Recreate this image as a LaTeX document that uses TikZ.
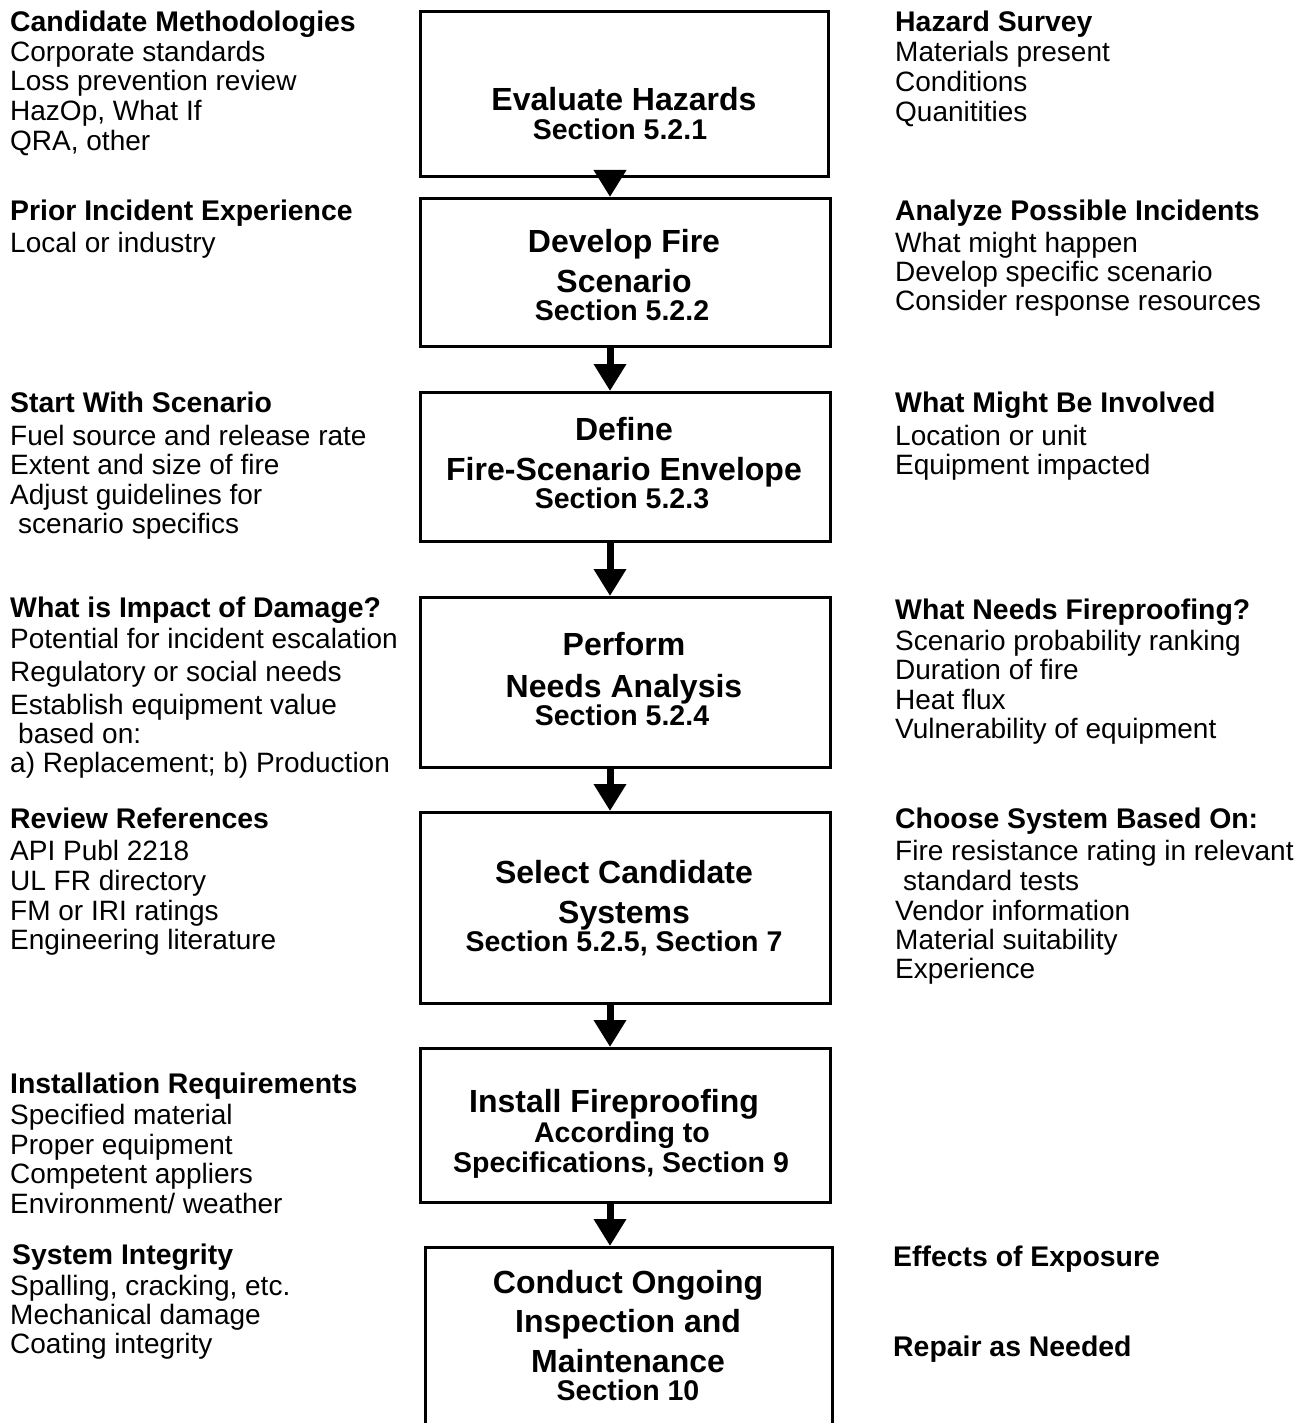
\documentclass[tikz,border=0pt]{standalone}
\usepackage{fontspec}
\setmainfont{Liberation Sans}
\usetikzlibrary{arrows.meta}
\tikzset{
  stepbox/.style={draw, line width=2.8pt, inner sep=0pt, anchor=north west},
  side/.style={anchor=base west, inner sep=0pt, font=\fontsize{28}{30}\selectfont},
  sidehead/.style={side, font=\fontsize{28.4}{30}\selectfont\bfseries},
  title/.style={anchor=base, inner sep=0pt, font=\fontsize{32}{36}\selectfont\bfseries},
  sect/.style={anchor=base, inner sep=0pt, font=\fontsize{28.5}{30}\selectfont\bfseries},
  flow/.style={line width=7pt, -{Triangle[width=31pt,length=27pt]}}
}
\begin{document}
\begin{tikzpicture}[x=1pt,y=-1pt]
\useasboundingbox (0,0) rectangle (1312,1423);
% boxes
\node[stepbox, minimum width=408pt, minimum height=165pt] (b1) at (419,10) {};
\node[stepbox, minimum width=410pt, minimum height=148pt] (b2) at (419,197) {};
\node[stepbox, minimum width=410pt, minimum height=149pt] (b3) at (419,391) {};
\node[stepbox, minimum width=410pt, minimum height=170pt] (b4) at (419,596) {};
\node[stepbox, minimum width=410pt, minimum height=191pt] (b5) at (419,811) {};
\node[stepbox, minimum width=410pt, minimum height=154pt] (b6) at (419,1047) {};
\node[stepbox, minimum width=407pt, minimum height=200pt] (b7) at (424,1246) {};
\coordinate (ax) at (610,0);
\draw[flow] (b1.south -| ax) -- (b2.north -| ax);
\draw[flow] (b2.south -| ax) -- (b3.north -| ax);
\draw[flow] (b3.south -| ax) -- (b4.north -| ax);
\draw[flow] (b4.south -| ax) -- (b5.north -| ax);
\draw[flow] (b5.south -| ax) -- (b6.north -| ax);
\draw[flow] (b6.south -| ax) -- (b7.north -| ax);
% box texts
\node[title] (t1a) at (624,111) {Evaluate Hazards};
\node[sect] (t1b) at (620,140) {Section 5.2.1};
\node[title] (t2a) at (624,252) {Develop Fire};
\node[title] (t2b) at (624,292) {Scenario};
\node[sect] (t2c) at (622,320) {Section 5.2.2};
\node[title] (t3a) at (624,440) {Define};
\node[title] (t3b) at (624,480) {Fire-Scenario Envelope};
\node[sect] (t3c) at (622,508) {Section 5.2.3};
\node[title] (t4a) at (624,655) {Perform};
\node[title] (t4b) at (624,697) {Needs Analysis};
\node[sect] (t4c) at (622,725) {Section 5.2.4};
\node[title] (t5a) at (624,883) {Select Candidate};
\node[title] (t5b) at (624,923) {Systems};
\node[sect] (t5c) at (624,951) {Section 5.2.5, Section 7};
\node[title] (t6a) at (614,1112) {Install Fireproofing};
\node[sect] (t6b) at (622,1142) {According to};
\node[sect] (t6c) at (621,1172) {Specifications, Section 9};
\node[title] (t7a) at (628,1293) {Conduct Ongoing};
\node[title] (t7b) at (628,1332) {Inspection and};
\node[title] (t7c) at (628,1372) {Maintenance};
\node[sect] (t7d) at (628,1400) {Section 10};
% left column
\node[sidehead] (l1) at (10,32) {Candidate Methodologies};
\node[side] (l2) at (10,62) {Corporate standards};
\node[side] (l3) at (10,91) {Loss prevention review};
\node[side] (l4) at (10,121) {HazOp, What If};
\node[side] (l5) at (10,151) {QRA, other};
\node[sidehead] (l6) at (10,221) {Prior Incident Experience};
\node[side] (l7) at (10,252) {Local or industry};
\node[sidehead] (l8) at (10,412) {Start With Scenario};
\node[side] (l9) at (10,445) {Fuel source and release rate};
\node[side] (l10) at (10,474) {Extent and size of fire};
\node[side] (l11) at (10,504) {Adjust guidelines for};
\node[side] (l12) at (10,533) {\hspace*{8pt}scenario specifics};
\node[sidehead] (l13) at (10,617) {What is Impact of Damage?};
\node[side] (l14) at (10,648) {Potential for incident escalation};
\node[side] (l15) at (10,681) {Regulatory or social needs};
\node[side] (l16) at (10,714) {Establish equipment value};
\node[side] (l17) at (10,743) {\hspace*{8pt}based on:};
\node[side] (l18) at (10,772) {a) Replacement; b) Production};
\node[sidehead] (l19) at (10,828) {Review References};
\node[side] (l20) at (10,860) {API Publ 2218};
\node[side] (l21) at (10,890) {UL FR directory};
\node[side] (l22) at (10,920) {FM or IRI ratings};
\node[side] (l23) at (10,949) {Engineering literature};
\node[sidehead] (l24) at (10,1093) {Installation Requirements};
\node[side] (l25) at (10,1124) {Specified material};
\node[side] (l26) at (10,1154) {Proper equipment};
\node[side] (l27) at (10,1183) {Competent appliers};
\node[side] (l28) at (10,1213) {Environment/ weather};
\node[sidehead] (l29) at (12,1264) {System Integrity};
\node[side] (l30) at (10,1295) {Spalling, cracking, etc.};
\node[side] (l31) at (10,1324) {Mechanical damage};
\node[side] (l32) at (10,1353) {Coating integrity};
% right column
\node[sidehead] (r1) at (895,32) {Hazard Survey};
\node[side] (r2) at (895,62) {Materials present};
\node[side] (r3) at (895,92) {Conditions};
\node[side] (r4) at (895,122) {Quanitities};
\node[sidehead] (r5) at (895,221) {Analyze Possible Incidents};
\node[side] (r6) at (895,252) {What might happen};
\node[side] (r7) at (895,281) {Develop specific scenario};
\node[side] (r8) at (895,310) {Consider response resources};
\node[sidehead] (r9) at (895,412) {What Might Be Involved};
\node[side] (r10) at (895,445) {Location or unit};
\node[side] (r11) at (895,474) {Equipment impacted};
\node[sidehead] (r12) at (895,619) {What Needs Fireproofing?};
\node[side] (r13) at (895,650) {Scenario probability ranking};
\node[side] (r14) at (895,679) {Duration of fire};
\node[side] (r15) at (895,709) {Heat flux};
\node[side] (r16) at (895,738) {Vulnerability of equipment};
\node[sidehead] (r17) at (895,828) {Choose System Based On:};
\node[side] (r18) at (895,860) {Fire resistance rating in relevant};
\node[side] (r19) at (895,890) {\hspace*{8pt}standard tests};
\node[side] (r20) at (895,920) {Vendor information};
\node[side] (r21) at (895,949) {Material suitability};
\node[side] (r22) at (895,978) {Experience};
\node[sidehead] (r23) at (893,1266) {Effects of Exposure};
\node[sidehead] (r24) at (893,1356) {Repair as Needed};
\end{tikzpicture}
\end{document}
